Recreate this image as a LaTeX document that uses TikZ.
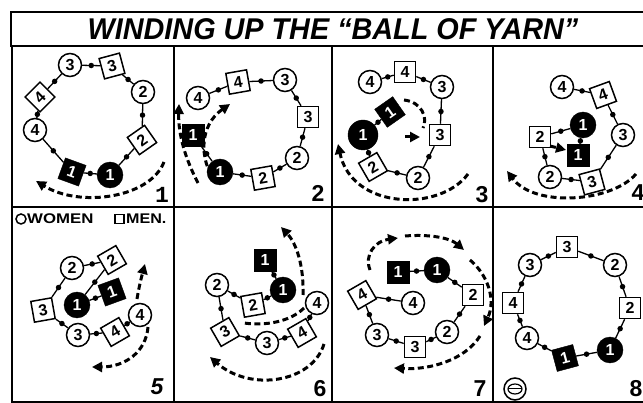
\documentclass[tikz,border=0pt]{standalone}
\usepackage{fontspec}
\setmainfont{Liberation Sans}
\newfontfamily\slabf{Liberation Mono}
\usetikzlibrary{arrows.meta}
\newcommand\digit{\fontsize{16}{16}\selectfont\bfseries}
\newcommand\plabf{\fontsize{23}{23}\selectfont\bfseries}
\tikzset{
  W/.style={circle,draw,line width=1.5pt,fill=white,minimum size=23pt,inner sep=0pt,font=\digit},
  M/.style={rectangle,draw,line width=1.5pt,fill=white,minimum size=21pt,inner sep=0pt,font=\digit},
  WB/.style={circle,fill=black,draw=black,text=white,minimum size=26pt,inner sep=0pt,font=\digit},
  MB/.style={rectangle,fill=black,draw=black,text=white,minimum size=22pt,inner sep=0pt,font=\digit},
  hand/.style={line width=1.3pt},
  hd/.style={circle,fill=black,inner sep=0pt,minimum size=5.5pt},
  dsh/.style={line width=3pt,dash pattern=on 6pt off 3.5pt},
  arr/.style={dsh,-{Triangle[length=10pt,width=10pt]}},
  plab/.style={font=\plabf,inner sep=0pt},
  gridline/.style={line width=2pt},
}
\begin{document}
\begin{tikzpicture}[x=1pt,y=-1pt]
\useasboundingbox (0,0) rectangle (643,403);
\clip (0,0) rectangle (643,403);
% frame
\draw[line width=2.5pt] (11,12) rectangle (670,46);
\draw[gridline] (12,46) -- (12,403);
\draw[gridline] (174,46) -- (174,403);
\draw[gridline] (332,46) -- (332,403);
\draw[gridline] (493,46) -- (493,403);
\draw[gridline] (11,207) -- (670,207);
\draw[gridline] (11,402) -- (670,402);
\node[font=\fontsize{30}{30}\selectfont\bfseries\itshape,inner sep=0pt] (title) at (333,29) {\scalebox{0.96}[1]{WINDING UP THE “BALL OF YARN”}};
% legend
\draw[line width=1.5pt] (21,219) circle (5);
\node[font=\fontsize{14}{14}\selectfont\bfseries,anchor=west,inner sep=0pt] (lw) at (27,219) {\scalebox{1.2}[1]{WOMEN}};
\draw[line width=1.5pt] (115,214.5) rectangle (124,223.5);
\node[font=\fontsize{14}{14}\selectfont\bfseries,anchor=west,inner sep=0pt] (lm) at (126,219) {\scalebox{1.15}[1]{MEN.}};

% ===== Panel 1
\node[WB] (a1) at (110,175) {1};
\node[MB,rotate=-20] (b1) at (72,172) {1};
\node[W] (a4) at (35,130) {4};
\node[M,rotate=45] (b4) at (40,97) {4};
\node[W] (a3) at (70,65) {3};
\node[M,rotate=15] (b3) at (112,66) {3};
\node[W] (a2) at (143,92) {2};
\node[M,rotate=35] (b2) at (142,140) {2};
\foreach \u/\v in {a1/b1,b1/a4,a4/b4,b4/a3,a3/b3,b3/a2,a2/b2,b2/a1}
  \draw[hand] (\u) -- node[hd]{} (\v);
\draw[arr] (164,162) .. controls (150,198) and (80,208) .. (36,181);
\node[plab,font=\fontsize{23}{23}\selectfont\bfseries\slabf] (l1) at (162,195) {1};

% ===== Panel 2
\node[W] (c4) at (198,98) {4};
\node[M,rotate=10] (d4) at (238,82) {4};
\node[W] (c3) at (285,80) {3};
\node[M] (d3) at (308,117) {3};
\node[W] (c2) at (297,158) {2};
\node[M,rotate=10] (d2) at (263,178) {2};
\node[WB] (c1) at (220,172) {1};
\node[MB] (d1) at (193,135) {1};
\foreach \u/\v in {d1/c1,c1/d2,d2/c2,c2/d3,d3/c3,c3/d4,d4/c4}
  \draw[hand] (\u) -- node[hd]{} (\v);
\draw[arr] (198,183) .. controls (186,160) and (178,135) .. (179,104);
\draw[arr] (216,183) .. controls (198,158) and (200,125) .. (230,104);
\node[plab] (l2) at (318,193) {2};

% ===== Panel 3
\node[W] (e4) at (370,82) {4};
\node[M] (f4) at (405,72) {4};
\node[W] (e3) at (442,87) {3};
\node[M] (f3) at (440,135) {3};
\node[W] (e2) at (418,178) {2};
\node[M,rotate=30] (f2) at (373,167) {2};
\node[WB,minimum size=30pt] (e1) at (363,135) {1};
\node[MB,rotate=35] (f1) at (390,112) {1};
\foreach \u/\v in {e4/f4,f4/e3,e3/f3,f3/e2,e2/f2,f2/e1,e1/f1}
  \draw[hand] (\u) -- node[hd]{} (\v);
\draw[dsh] (404,100) .. controls (422,102) and (428,118) .. (423,128);
\draw[arr] (405,137) -- (420,137);
\draw[arr] (468,174) .. controls (440,212) and (352,210) .. (338,144);
\node[plab] (l3) at (482,195) {3};

% ===== Panel 4
\node[W] (g4) at (562,87) {4};
\node[M,rotate=20] (h4) at (603,95) {4};
\node[W] (g3) at (623,135) {3};
\node[M,rotate=15] (h3) at (592,182) {3};
\node[W] (g2) at (550,177) {2};
\node[M] (h2) at (540,137) {2};
\node[WB] (g1) at (583,125) {1};
\node[MB] (h1) at (578,155) {1};
\foreach \u/\v in {g4/h4,h4/g3,g3/h3,h3/g2,g2/h2,h2/g1,g1/h1}
  \draw[hand] (\u) -- node[hd]{} (\v);
\draw[arr] (550,146) -- (566,150);
\draw[arr] (636,174) .. controls (612,202) and (535,208) .. (507,171);
\node[plab] (l4) at (638,193) {4};

% ===== Panel 5
\node[W] (i2) at (72,268) {2};
\node[M,rotate=30] (j2) at (112,260) {2};
\node[WB] (i1) at (77,305) {1};
\node[MB,rotate=20] (j1) at (112,292) {1};
\node[M,rotate=10] (j3) at (43,310) {3};
\node[W] (i3) at (78,335) {3};
\node[M,rotate=30] (j4) at (115,332) {4};
\node[W] (i4) at (140,315) {4};
\foreach \u/\v in {i4/j4,j4/i3,i3/j3,j3/i2,i2/j2,j2/i1,i1/j1}
  \draw[hand] (\u) -- node[hd]{} (\v);
\draw[arr] (137,299) .. controls (139,287) and (141,279) .. (145,264);
\draw[arr] (148,327) .. controls (146,352) and (125,367) .. (92,367);
\node[plab,font=\fontsize{23}{23}\selectfont\bfseries\itshape] (l5) at (157,387) {5};

% ===== Panel 6
\node[MB] (n1) at (265,260) {1};
\node[WB] (m1) at (283,290) {1};
\node[W] (m2) at (217,285) {2};
\node[M,rotate=10] (n2) at (253,305) {2};
\node[W] (m4) at (317,303) {4};
\node[M,rotate=30] (n3) at (225,332) {3};
\node[W] (m3) at (267,343) {3};
\node[M,rotate=30] (n4) at (302,333) {4};
\foreach \u/\v in {n1/m1,m1/n2,n2/m2,m2/n3,n3/m3,m3/n4,n4/m4}
  \draw[hand] (\u) -- node[hd]{} (\v);
\draw[arr] (303,295) .. controls (304,265) and (296,243) .. (281,227);
\draw[dsh] (304,308) .. controls (290,322) and (265,326) .. (244,323);
\draw[arr] (324,344) .. controls (312,383) and (250,392) .. (210,357);
\node[plab] (l6) at (320,389) {6};

% ===== Panel 7
\node[MB] (q1) at (398,272) {1};
\node[WB] (p1) at (437,270) {1};
\node[M] (q2) at (473,295) {2};
\node[W] (p2) at (447,332) {2};
\node[M] (q3) at (415,347) {3};
\node[W] (p3) at (377,335) {3};
\node[M,rotate=30] (q4) at (362,295) {4};
\node[W] (p4) at (413,303) {4};
\foreach \u/\v in {q1/p1,p1/q2,q2/p2,p2/q3,q3/p3,p3/q4,q4/p4}
  \draw[hand] (\u) -- node[hd]{} (\v);
\draw[arr] (370,270) .. controls (364,255) and (375,241) .. (398,238);
\draw[arr] (405,236) .. controls (430,234) and (450,238) .. (464,250);
\draw[arr] (470,260) .. controls (488,275) and (496,300) .. (484,326);
\draw[arr] (480,336) .. controls (465,360) and (430,370) .. (394,368);
\node[plab] (l7) at (480,389) {7};

% ===== Panel 8
\node[M] (s3) at (567,247) {3};
\node[W] (r2) at (615,265) {2};
\node[M] (s2) at (630,308) {2};
\node[WB] (r1) at (610,350) {1};
\node[MB,rotate=15] (s1) at (565,358) {1};
\node[W] (r4) at (527,338) {4};
\node[M] (s4) at (513,303) {4};
\node[W] (r3) at (530,265) {3};
\foreach \u/\v in {s3/r2,r2/s2,s2/r1,r1/s1,s1/r4,r4/s4,s4/r3,r3/s3}
  \draw[hand] (\u) -- node[hd]{} (\v);
\node[plab] (l8) at (636,389) {8};
% logo
\draw[line width=1.5pt] (515,389) circle (11);
\draw[line width=1.2pt] (515,389) ellipse (7 and 5);
\draw[line width=1pt] (508,389) -- (522,389);
\end{tikzpicture}
\end{document}
